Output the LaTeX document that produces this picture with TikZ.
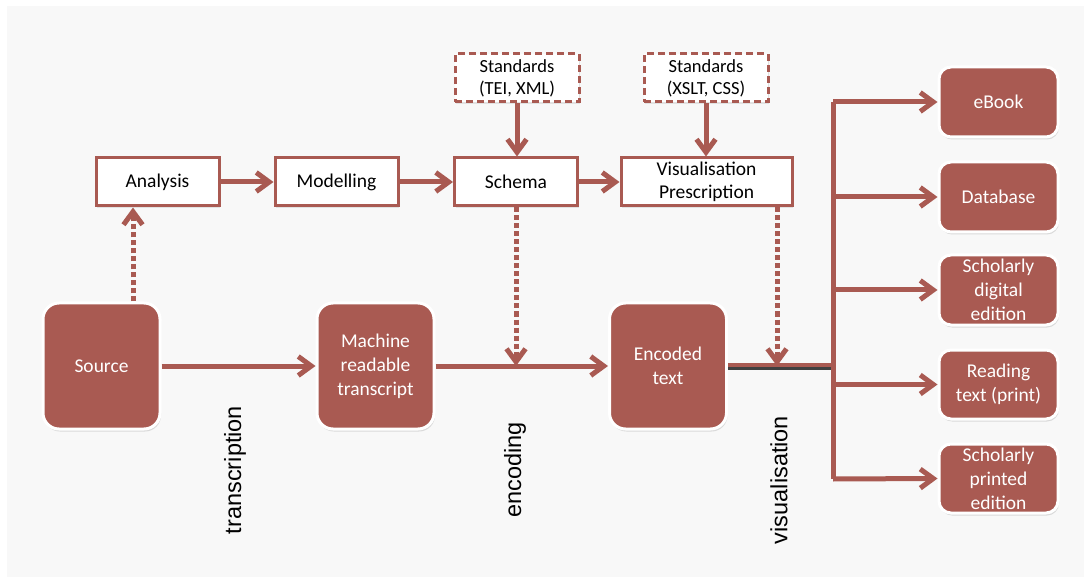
\documentclass[tikz,border=0pt]{standalone}
\usepackage{fontspec}
\setmainfont{Carlito}
\newfontfamily\arialfont{Liberation Sans}
\usetikzlibrary{arrows.meta,shadows,calc}
\definecolor{brick}{HTML}{A95A52}
\definecolor{bg}{HTML}{F8F8F8}
\tikzset{
  outbox/.style={draw=brick, line width=3pt, fill=white, minimum height=48pt, align=center,
    font=\fontsize{19.5}{23}\selectfont, inner sep=0pt,
    drop shadow={opacity=0.18, shadow xshift=1pt, shadow yshift=-2pt}},
  stdbox/.style={outbox, dash pattern=on 7pt off 4pt, font=\fontsize{18.5}{22}\selectfont},
  fillbox/.style={fill=brick, draw=white, line width=3pt, rounded corners=16pt, align=center,
    text=white, font=\fontsize{19.5}{24}\selectfont, inner sep=0pt, minimum width=117pt, minimum height=126pt,
    drop shadow={opacity=0.25, shadow xshift=1pt, shadow yshift=-2.5pt}},
  outbox2/.style={fillbox, minimum width=119pt, minimum height=70pt, rounded corners=12pt},
  conn/.style={draw=brick, line width=5pt, -{Straight Barb[length=13pt,width=19pt,line width=5pt]}},
  dotconn/.style={conn, dash pattern=on 5pt off 3pt},
  vlabel/.style={rotate=90, font=\arialfont\fontsize{23.5}{28}\selectfont, inner sep=0pt}
}
\begin{document}
\begin{tikzpicture}[x=1pt,y=-1pt]
\fill[white] (0,0) rectangle (1084,577);
\fill[bg] (7,6) rectangle (1084,577);
\useasboundingbox (0,0) rectangle (1084,577);

% top row
\node[outbox, minimum width=123pt] (ana) at (157.5,182) {Analysis};
\node[outbox, minimum width=123pt] (mod) at (336.5,182) {Modelling};
\node[outbox, minimum width=123pt] (sch) at (516,182) {Schema};
\node[outbox, minimum width=171pt] (vis) at (706.5,182) {Visualisation\\Prescription};
\node[stdbox, minimum width=124pt] (std1) at (517,78) {Standards\\(TEI, XML)};
\node[stdbox, minimum width=124pt] (std2) at (706,78) {Standards\\(XSLT, CSS)};

% main row
\node[fillbox] (src) at (101.5,366) {Source};
\node[fillbox] (mrt) at (375.5,366) {Machine\\readable\\transcript};
\node[fillbox] (enc) at (668,366) {Encoded\\text};

% outputs
\node[outbox2] (ebook) at (998.5,102) {eBook};
\node[outbox2] (db) at (998.5,197) {Database};
\node[outbox2] (sde) at (998.5,290) {Scholarly\\digital\\edition};
\node[outbox2, minimum height=69pt] (rt) at (998.5,384.5) {Reading\\text (print)};
\node[outbox2, minimum height=69pt] (spe) at (998.5,478.5) {Scholarly\\printed\\edition};

% labels
\node[vlabel] (l1) at (235,470) {transcription};
\node[vlabel] (l2) at (515,470) {encoding};
\node[vlabel] (l3) at (779,480) {visualisation};

% coordinates
\coordinate (e1) at (516,366);
\coordinate (e2) at (777,366);
\coordinate (bt) at (833,102);
\coordinate (bb) at (833,479);
\coordinate (bm) at (833,365);

% top connectors
\draw[conn] (ana) -- (mod);
\draw[conn] (mod) -- (sch);
\draw[conn] (sch) -- (vis);
\draw[conn] (std1.south) -- (std1.south |- sch.north);
\draw[conn] (std2.south) -- (std2.south |- vis.north);

% dotted
\draw[dotconn] ([xshift=31.5pt]src.north) -- ([xshift=31.5pt]src.north |- ana.south);
\draw[dotconn] (sch.south) -- (e1);
\draw[dotconn] ([xshift=70.5pt]vis.south) -- (e2);

% main flow
\draw[conn] (src) -- (mrt);
\draw[conn] (mrt) -- (enc);
\draw[line width=3pt, draw=black!75] ([yshift=-3pt]enc.east |- bm) -- ([yshift=-3pt]bm);
\draw[line width=4.5pt, draw=brick] (enc.east |- bm) -- (bm);

% bus
\draw[line width=5pt, draw=brick] (bt) -- (bb);
\draw[conn] (bt) -- (ebook.west);
\draw[conn] (833,197) -- (db.west);
\draw[conn] (833,290) -- (sde.west);
\draw[conn] (833,384.5) -- (rt.west);
\draw[conn] (bb) -- (spe.west);
\end{tikzpicture}
\end{document}
